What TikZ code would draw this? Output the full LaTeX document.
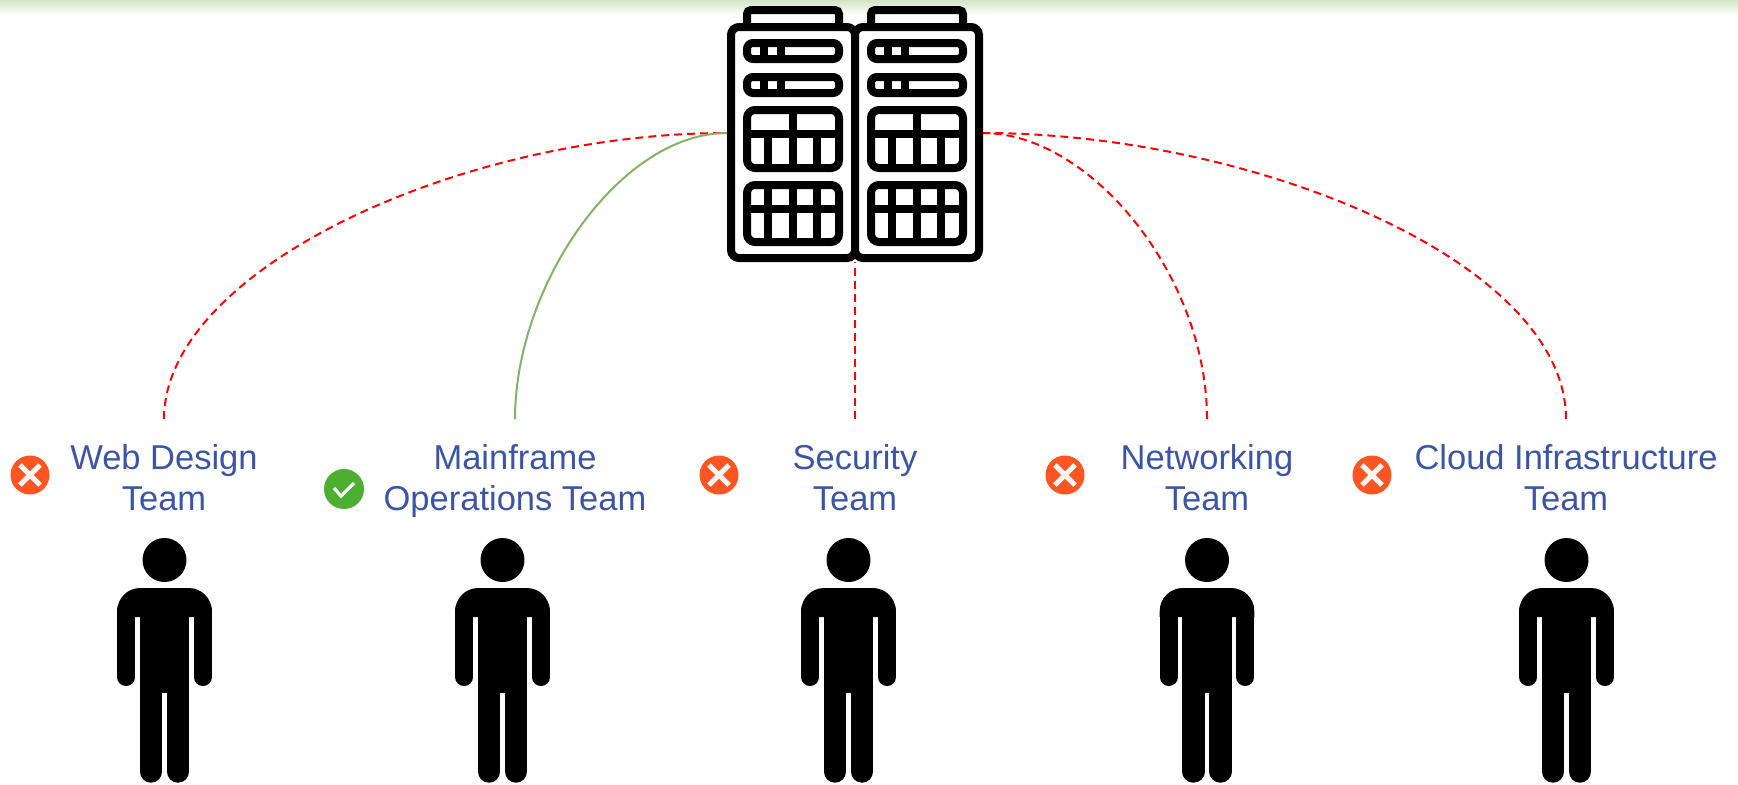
\documentclass[tikz,border=0pt]{standalone}
\usepackage{fontspec}
\setmainfont{Liberation Sans}
\usetikzlibrary{calc}
\usetikzlibrary{shadings}
\definecolor{teamblue}{HTML}{3C54A5}
\definecolor{failred}{HTML}{FF5522}
\definecolor{passgreen}{HTML}{4CAF2F}
\definecolor{linkgreen}{HTML}{82B366}
\definecolor{bandgreen}{HTML}{D3E4C5}
\newcommand{\DCRackWidth}{124}
\newcommand{\DCRack}[1]{
  \begin{scope}[shift={(#1,0)},rackline]
    \draw [fill=white,rounded corners=2pt] (16,23) -- (16,10) -- (108,10) -- (108,23);
    \draw [fill=white,rounded corners=4pt] (0,27) rectangle (\DCRackWidth,258);
    % two thin units with their lamps
    \foreach \UnitTop in {43,77} {
      \draw [rounded corners=3pt] (16,\UnitTop) rectangle (108,\UnitTop+16);
      \draw (33,\UnitTop) -- (33,\UnitTop+16);
      \draw (50,\UnitTop) -- (50,\UnitTop+16);
    }
    % two large units
    \draw [rounded corners=4pt] (16,110) rectangle (108,168);
    \draw (16,134) -- (108,134);
    \draw (62,110) -- (62,168);
    \draw (37,134) -- (37,168);
    \draw (86,134) -- (86,168);
    \draw [rounded corners=4pt] (16,185) rectangle (108,242);
    \draw (16,209) -- (108,209);
    \foreach \UnitX in {37,62,86} {
      \draw (\UnitX,185) -- (\UnitX,242);
    }
  \end{scope}
}
\newcommand{\DCPerson}[2]{
  \begin{scope}[shift={(#2,0)}]
    \node [fill=black,circle,inner sep=0pt,minimum size=22pt] (#1) at (0,560) {};
    \fill (-47.3,617) [rounded corners=11.5pt] -- (-47.3,588) -- (47.3,588) [sharp corners] -- (47.3,617) -- cycle;
    \fill (-24.7,600) rectangle (24.7,693);
    \foreach \ArmX in {-38.3,38.3} {
      \draw [black,line width=9pt,line cap=round] (\ArmX,610) -- (\ArmX,677);
    }
    \foreach \LegX in {-13.5,13.5} {
      \draw [black,line width=11.2pt,line cap=round] (\LegX,690) -- (\LegX,771.5);
    }
  \end{scope}
}
\tikzset{
  rackline/.style={line width=4pt,black},
  teamlabel/.style={anchor=north,align=center,inner xsep=0pt,inner ysep=10.9pt,text=teamblue,font=\fontsize{17.25}{20.5}\selectfont},
  denied/.style={red,line width=1pt,dash pattern=on 4pt off 2.5pt},
  allowed/.style={linkgreen,line width=1pt},
  failbadge/.style={circle,fill=failred,inner sep=0pt,minimum size=19.5pt,path picture={
    \draw [white!95!failred,line width=2.6pt] ([shift={(-10,-10)}]path picture bounding box.center) -- ([shift={(10,10)}]path picture bounding box.center);
    \draw [white!95!failred,line width=2.6pt] ([shift={(-10,10)}]path picture bounding box.center) -- ([shift={(10,-10)}]path picture bounding box.center);
  }},
  passbadge/.style={circle,fill=passgreen,inner sep=0pt,minimum size=20pt,path picture={
    \draw [white,line width=1.6pt] ([shift={(-10,-1)}]path picture bounding box.center) -- ([shift={(-3,7)}]path picture bounding box.center) -- ([shift={(10,-6)}]path picture bounding box.center);
  }}
}
\begin{document}
\begin{tikzpicture}[x=0.5pt,y=-0.5pt]
\useasboundingbox (0,0) rectangle (1738,784);
\shade [top color=bandgreen,bottom color=white] (0,0) rectangle (1738,15);

\DCRack{731}
\DCRack{855}
\coordinate (rackwest) at (727,133);
\coordinate (rackeast) at (983,133);
\coordinate (racksouth) at (855,262);

\node [teamlabel] (web) at (164,419) {\strut Web Design\\Team};
\node [teamlabel] (mainframe) at (515,419) {\strut Mainframe\\Operations Team};
\node [teamlabel] (security) at (855,419) {\strut Security\\Team};
\node [teamlabel] (networking) at (1207,419) {\strut Networking\\Team};
\node [teamlabel] (cloud) at (1566,419) {\strut Cloud Infrastructure\\Team};

\node [failbadge] (webno) at (30,475) {};
\node [passbadge] (mainframeyes) at (344,489) {};
\node [failbadge] (securityno) at (719,475) {};
\node [failbadge] (networkingno) at (1065,475) {};
\node [failbadge] (cloudno) at (1372,475) {};

\draw [denied] (web.north) .. controls +(0,-149) and +(-267,0) .. (rackwest);
\draw [allowed] (mainframe.north) .. controls +(0,-134) and +(-107,0) .. (rackwest);
\draw [denied] (security.north) -- (racksouth);
\draw [denied] (networking.north) .. controls +(0,-144) and +(107,0) .. (rackeast);
\draw [denied] (cloud.north) .. controls +(0,-159) and +(267,0) .. (rackeast);

\DCPerson{webperson}{164.5}
\DCPerson{mainframeperson}{502.5}
\DCPerson{securityperson}{848.5}
\DCPerson{networkingperson}{1207}
\DCPerson{cloudperson}{1566.5}
\end{tikzpicture}
\end{document}
